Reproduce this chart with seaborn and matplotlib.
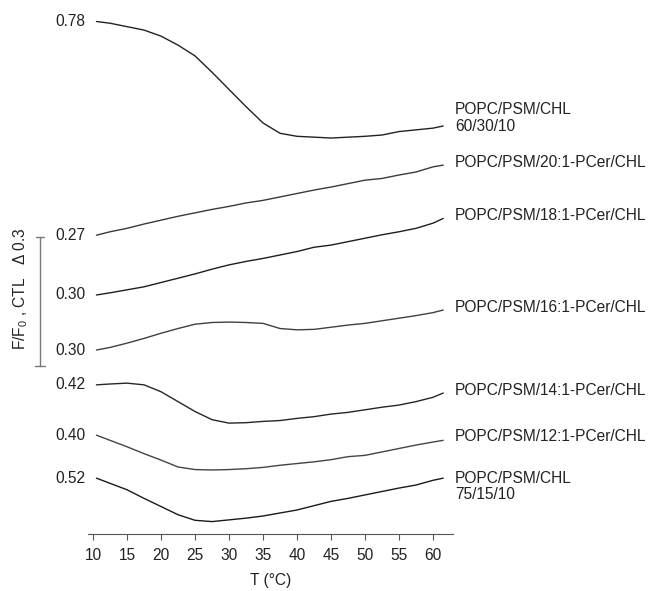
import numpy as np
import pandas as pd
import seaborn as sns
import matplotlib.pyplot as plt

temps = [10.5, 12.5, 15, 17.5, 20, 22.5, 25, 27.5, 30, 32.5, 35, 37.5,
         40, 42.5, 45, 47.5, 50, 52.5, 55, 57.5, 60, 61.5]

# F/F0 traces
chl_60_30_10 = [0.780, 0.776, 0.768, 0.760, 0.746, 0.725, 0.700, 0.662, 0.622, 0.582, 0.544,
                0.520, 0.513, 0.511, 0.509, 0.511, 0.513, 0.516, 0.524, 0.528, 0.532, 0.537]
pcer_20 = [0.270, 0.278, 0.286, 0.296, 0.305, 0.314, 0.322, 0.330, 0.337, 0.345, 0.351,
           0.359, 0.367, 0.375, 0.382, 0.390, 0.398, 0.402, 0.410, 0.417, 0.429, 0.433]
pcer_18 = [0.300, 0.305, 0.312, 0.319, 0.329, 0.339, 0.349, 0.360, 0.370, 0.378, 0.385,
           0.393, 0.401, 0.411, 0.416, 0.424, 0.432, 0.440, 0.447, 0.455, 0.467, 0.478]
pcer_16 = [0.300, 0.306, 0.316, 0.327, 0.339, 0.350, 0.360, 0.364, 0.365, 0.364, 0.362,
           0.350, 0.347, 0.348, 0.353, 0.358, 0.362, 0.368, 0.374, 0.380, 0.387, 0.393]
pcer_14 = [0.420, 0.422, 0.424, 0.420, 0.404, 0.381, 0.358, 0.339, 0.331, 0.332, 0.335,
           0.337, 0.342, 0.346, 0.352, 0.356, 0.362, 0.368, 0.373, 0.381, 0.391, 0.401]
pcer_12 = [0.400, 0.388, 0.373, 0.357, 0.342, 0.326, 0.320, 0.319, 0.320, 0.322, 0.325,
           0.330, 0.334, 0.338, 0.343, 0.350, 0.353, 0.361, 0.369, 0.377, 0.384, 0.388]
chl_75_15_10 = [0.520, 0.508, 0.493, 0.473, 0.454, 0.435, 0.422, 0.419, 0.423, 0.427, 0.432,
                0.439, 0.446, 0.456, 0.466, 0.473, 0.481, 0.489, 0.497, 0.504, 0.515, 0.520]

names = ["POPC/PSM/CHL\n60/30/10", "POPC/PSM/20:1-PCer/CHL", "POPC/PSM/18:1-PCer/CHL",
         "POPC/PSM/16:1-PCer/CHL", "POPC/PSM/14:1-PCer/CHL", "POPC/PSM/12:1-PCer/CHL",
         "POPC/PSM/CHL\n75/15/10"]
start_labels = ["0.78", "0.27", "0.30", "0.30", "0.42", "0.40", "0.52"]
traces = [chl_60_30_10, pcer_20, pcer_18, pcer_16, pcer_14, pcer_12, chl_75_15_10]

# vertical stacking of the traces
offsets = [-0.830, -0.817, -0.986, -1.114, -1.315, -1.412, -1.632]
label_dy = [0.019, 0.005, 0.007, 0.005, 0.007, 0.009, -0.019]
colors = ["#222222", "#3a3a3a", "#1e1e1e", "#404040", "#262626", "#444444", "#1a1a1a"]

sns.set_style("white")
plt.rcParams["font.family"] = ["Liberation Sans", "DejaVu Sans"]
plt.rcParams["mathtext.fontset"] = "custom"
plt.rcParams["mathtext.rm"] = "Liberation Sans"

rows = []
for n, tr, off in zip(names, traces, offsets):
    for t, v in zip(temps, tr):
        rows.append({"T": t, "Y": v + off, "curve": n})
df = pd.DataFrame(rows)

fig = plt.figure(figsize=(6.48, 5.91), dpi=100)
ax = fig.add_axes([88 / 648, 1 - 534 / 591, 365 / 648, 534 / 591])

for n, c in zip(names, colors):
    sns.lineplot(data=df[df["curve"] == n], x="T", y="Y", color=c, lw=1.0, ax=ax,
                 estimator=None, sort=False)

fs = 11.2
for n, tr, off, sl, dy in zip(names, traces, offsets, start_labels, label_dy):
    ax.text(8.9, tr[0] + off, sl, ha="right", va="center", fontsize=fs, color="#222222")
    ax.text(63.2, tr[-1] + off + dy, n, ha="left", va="center", fontsize=fs,
            color="#222222", linespacing=1.12, clip_on=False)

ax.set_xlim(9.26, 62.94)
ax.set_ylim(-534 / 430, 0)
ax.set_xticks(range(10, 61, 5))
ax.set_yticks([])
ax.set_xlabel("T (°C)", fontsize=fs, color="#222222", labelpad=7)
ax.set_ylabel("")
ax.tick_params(axis="x", direction="out", length=4, width=0.8, color="#555555",
               labelsize=fs, labelcolor="#222222", pad=6, bottom=True)
for s in ["top", "right", "left"]:
    ax.spines[s].set_visible(False)
ax.spines["bottom"].set_color("#555555")
ax.spines["bottom"].set_linewidth(0.8)

# scale bar: delta 0.3
bx = 2.2
btop = -237 / 430
ax.plot([bx, bx], [btop, btop - 0.3], color="#777777", lw=1.0, clip_on=False)
ax.plot([bx - 0.55, bx + 0.55], [btop, btop], color="#777777", lw=1.0, clip_on=False)
ax.plot([bx - 0.75, bx + 0.75], [btop - 0.3, btop - 0.3], color="#777777", lw=1.0, clip_on=False)
ax.text(-0.6, btop - 0.12, r"F/F$_\mathregular{0}$ , CTL   Δ 0.3", rotation=90,
        ha="center", va="center", fontsize=fs, color="#222222", clip_on=False)

fig.savefig("out.png", dpi=100)
